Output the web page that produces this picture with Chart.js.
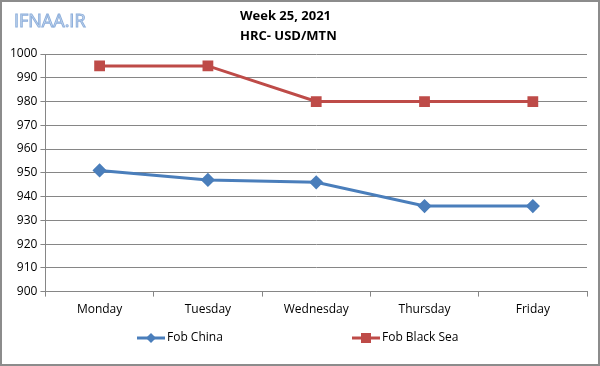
<!DOCTYPE html>
<html>
<head>
<meta charset="utf-8">
<script src="https://cdn.jsdelivr.net/npm/chart.js@4/dist/chart.umd.min.js"></script>
<style>
  html, body { margin: 0; padding: 0; background: #fff; }
  #wrap { width: 600px; height: 366px; position: relative; }
</style>
</head>
<body>
<div id="wrap"><canvas id="chart" width="600" height="366"></canvas></div>
<script>
// Chart data
const days = ["Monday", "Tuesday", "Wednesday", "Thursday", "Friday"];
const fobChina = [951, 947, 946, 936, 936];
const fobBlackSea = [995, 995, 980, 980, 980];
const titleLines = ["Week 25, 2021", "HRC- USD/MTN"];

const blue = "#4a7ebb";
const red = "#be4b48";
const fontFamily = "'Open Sans', 'Liberation Sans', sans-serif";

// draw a legend symbol: a line with the marker in the middle
function drawSymbol(ctx, x, y, color, style) {
  ctx.strokeStyle = color;
  ctx.fillStyle = color;
  ctx.lineWidth = 3;
  ctx.beginPath(); ctx.moveTo(x, y); ctx.lineTo(x + 28, y); ctx.stroke();
  if (style === "rectRot") {
    ctx.beginPath();
    ctx.moveTo(x + 14, y - 5); ctx.lineTo(x + 19, y); ctx.lineTo(x + 14, y + 5); ctx.lineTo(x + 9, y);
    ctx.closePath(); ctx.fill();
  } else {
    ctx.fillRect(x + 9, y - 5, 10, 10);
  }
}

// header text, watermark, legend and frame
const decorations = {
  id: "decorations",
  afterDraw(chart) {
    const ctx = chart.ctx;
    ctx.save();
    ctx.fillStyle = "#000";
    ctx.font = "bold 13px " + fontFamily;
    ctx.textAlign = "left";
    ctx.textBaseline = "middle";
    ctx.fillText(titleLines[0], 240, 16);
    ctx.fillText(titleLines[1], 240, 36);

    ctx.font = "18px " + fontFamily;
    ctx.fillStyle = "#dbe6f4";
    ctx.strokeStyle = "#8fb0dc";
    ctx.lineWidth = 1;
    ctx.fillText("IFNAA.IR", 14, 22);
    ctx.strokeText("IFNAA.IR", 14, 22);

    // legend
    const legendX = [137, 352];
    const legendY = 338;
    chart.data.datasets.forEach((ds, i) => {
      drawSymbol(ctx, legendX[i], legendY, ds.borderColor, ds.pointStyle);
      ctx.fillStyle = "#000";
      ctx.font = "12px " + fontFamily;
      ctx.textAlign = "left";
      ctx.textBaseline = "middle";
      ctx.fillText(ds.label, legendX[i] + 30, legendY);
    });

    ctx.strokeStyle = "#8c8c8c";
    ctx.lineWidth = 2;
    ctx.strokeRect(1, 1, chart.width - 2, chart.height - 2);
    ctx.restore();
  }
};

new Chart(document.getElementById("chart").getContext("2d"), {
  type: "line",
  data: {
    labels: days,
    datasets: [
      { label: "Fob China", data: fobChina, borderColor: blue, backgroundColor: blue, borderWidth: 3,
        pointStyle: "rectRot", pointRadius: 5, pointHoverRadius: 5, tension: 0 },
      { label: "Fob Black Sea", data: fobBlackSea, borderColor: red, backgroundColor: red, borderWidth: 3,
        pointStyle: "rect", pointRadius: 5.5, pointHoverRadius: 5.5, tension: 0 }
    ]
  },
  options: {
    responsive: false,
    animation: false,
    layout: { padding: { top: 54, left: 7, right: 13, bottom: 43 } },
    plugins: {
      title: { display: false },
      tooltip: { enabled: false },
      legend: { display: false }
    },
    scales: {
      x: {
        offset: true,
        grid: { offset: true, drawOnChartArea: false, drawTicks: true, tickLength: 5, color: "#868686" },
        border: { color: "#868686", width: 1 },
        ticks: { color: "#000", font: { family: fontFamily, size: 12 }, padding: 6 }
      },
      y: {
        min: 900,
        max: 1000,
        ticks: {
          stepSize: 10, autoSkip: false, color: "#000", font: { family: fontFamily, size: 12 }, padding: 3,
          callback: (v) => String(v)
        },
        grid: { color: "#868686", tickLength: 5 },
        border: { color: "#868686", width: 1 }
      }
    }
  },
  plugins: [decorations]
});
</script>
</body>
</html>
